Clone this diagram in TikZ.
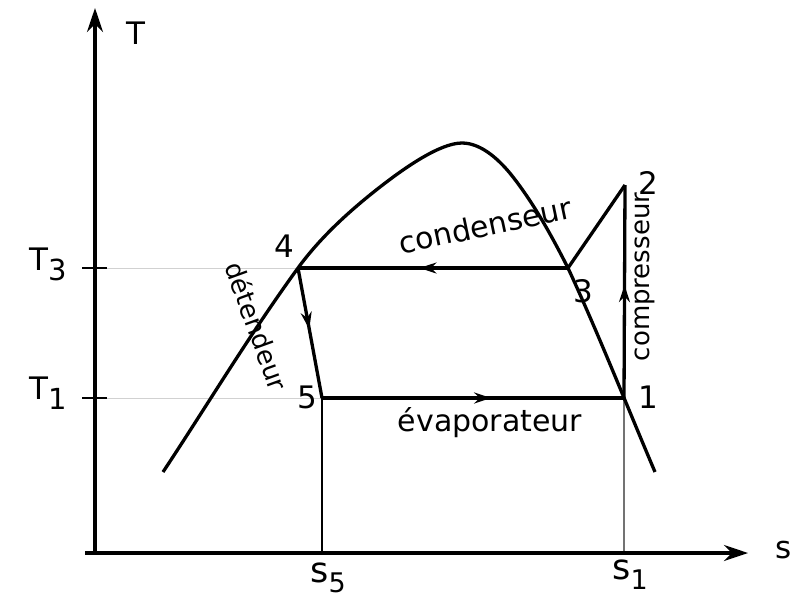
\documentclass[tikz,border=0pt]{standalone}
\usepackage{fontspec}
\setmainfont{DejaVu Sans}
\usetikzlibrary{arrows.meta,decorations.markings}
\tikzset{
  curve/.style={line width=3.3pt, line join=round},
  guide/.style={line width=0.6pt, black!18},
  midarrow/.style={postaction={decorate}, decoration={markings,
     mark=at position #1 with {\arrow{Stealth[length=17pt,width=11pt]}}}},
  axis/.style={line width=3.3pt, -{Stealth[length=24pt,width=16pt]}},
  num/.style={font=\fontsize{31}{33}\selectfont, inner sep=0pt},
  lab/.style={font=\fontsize{30}{32}\selectfont, inner sep=0pt},
  slab/.style={font=\fontsize{26}{28}\selectfont, inner sep=0pt},
}
\begin{document}
\begin{tikzpicture}[x=1pt,y=-1pt]
\useasboundingbox (0,0) rectangle (794,600);
% coordinates
\coordinate (O) at (95,553);
\coordinate (Ytop) at (95,8);
\coordinate (Xstart) at (85,553);
\coordinate (Xend) at (748,553);
\coordinate (p1) at (624,398);
\coordinate (p2) at (625,185);
\coordinate (p3) at (568,268);
\coordinate (p4) at (298,268);
\coordinate (p5) at (322,398);
\coordinate (t3a) at (82,268);
\coordinate (t3b) at (107,268);
\coordinate (t1a) at (82,398);
\coordinate (t1b) at (107,398);
\coordinate (s5) at (322,553);
\coordinate (s1) at (624,553);
\coordinate (d0) at (163,472);
\coordinate (d2) at (380,187);
\coordinate (d3) at (462,143);
\coordinate (d4) at (513,177);
\coordinate (d6) at (655,472);
% guide lines
\draw[guide] (t3b) -- (p4);
\draw[guide] (t1b) -- (p5);
\draw[line width=1.2pt, black!55] (p1) -- (s1);
\draw[line width=2.4pt] (p5) -- (s5);
% axes
\draw[axis] (O) -- (Ytop);
\draw[axis] (Xstart) -- (Xend);
\draw[line width=2.8pt] (t3a) -- (t3b);
\draw[line width=2.8pt] (t1a) -- (t1b);
% saturation dome
\draw[curve] (d0) .. controls (208,404) and (250,334) .. (p4)
  .. controls (320.4,237.2) and (350,210.4) .. (d2)
  .. controls (404.5,167.9) and (440,143) .. (d3)
  .. controls (482,143) and (500.7,161.2) .. (d4)
  .. controls (534.5,204.6) and (552,236.5) .. (p3)
  .. controls (598.8,334.6) and (626.1,404) .. (d6);
% cycle
\draw[curve, midarrow=0.55] (p3) -- (p4);
\draw[curve, midarrow=0.47] (p4) -- (p5);
\draw[curve, midarrow=0.56] (p5) -- (p1);
\draw[curve, midarrow=0.53] (p1) -- (p2);
\draw[curve] (p2) -- (p3);
% labels
\node[num] (lT) at (136,33) {T};
\node[num] (lT3) at (48,264) {T\raisebox{-10pt}{\fontsize{29}{29}\selectfont 3}};
\node[num] (lT1) at (48,393) {T\raisebox{-10pt}{\fontsize{29}{29}\selectfont 1}};
\node[num] (ls) at (784,550) {s};
\node[num, font=\fontsize{35}{37}\selectfont] (ls5) at (328,578) {s\raisebox{-10pt}{\fontsize{27}{27}\selectfont 5}};
\node[num, font=\fontsize{35}{37}\selectfont] (ls1) at (630,575) {s\raisebox{-10pt}{\fontsize{27}{27}\selectfont 1}};
\node[num] (n1) at (648,397) {1};
\node[num] (n2) at (648,183) {2};
\node[num] (n3) at (583,291) {3};
\node[num] (n4) at (284,246) {4};
\node[num] (n5) at (307,397) {5};
\node[lab, rotate=12] (lcond) at (485,225) {condenseur};
\node[lab] (levap) at (490,423) {évaporateur};
\node[slab, rotate=90] (lcomp) at (645,277) {compresseur};
\node[slab, rotate=-70] (ldet) at (257,326) {détendeur};
\end{tikzpicture}
\end{document}
